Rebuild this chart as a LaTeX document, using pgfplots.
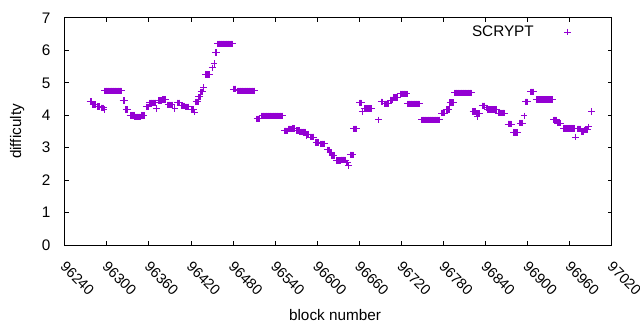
\documentclass[border=0pt]{standalone}
\usepackage{pgfplots}
\pgfplotsset{compat=1.18}
\usepackage{fontspec}
\setmainfont{Liberation Sans}
\definecolor{gpviolet}{RGB}{148,0,211}
\begin{document}
\fontsize{15.3bp}{18bp}\selectfont
\begin{tikzpicture}
\useasboundingbox (-64.8bp,-85bp) rectangle (575.2bp,245bp);
\begin{axis}[
  scale only axis, width=547bp, height=227bp,
  at={(0,0)}, anchor=south west,
  xmin=96240, xmax=97020, ymin=0, ymax=7,
  xtick={96240,96300,96360,96420,96480,96540,96600,96660,96720,96780,96840,96900,96960,97020},
  ytick={0,1,2,3,4,5,6,7},
  scaled x ticks=false,
  tick align=inside, xtick pos=both, ytick pos=both, major tick length=4bp,
  axis line style={line width=1bp, black},
  every tick/.style={black, line width=1bp},
  /pgf/number format/assume math mode=true,
  /pgf/number format/1000 sep={},
  xticklabel style={font=\fontsize{14.5bp}{17bp}\selectfont, xshift=2bp, yshift=-8bp, rotate=-45, anchor=north west},
  yticklabel style={xshift=-9bp},
  xlabel={block number}, ylabel={difficulty},
  xlabel style={at={(axis description cs:0.494,-0.308)}, anchor=center},
  ylabel style={at={(axis description cs:-0.087,0.5)}, anchor=center},
  legend plot pos=right,
  legend style={draw=none, fill=none, at={(rel axis cs:0.9327,0.985)}, anchor=north east},
  legend image code/.code={\path[draw=none,fill=none] (0bp,-3bp) rectangle (36bp,3bp); \draw[mark repeat=2,mark phase=2,#1] plot coordinates {(0bp,0bp)(32bp,0bp)};},
]
\addplot[only marks, mark=+, mark size=3.3bp, line width=1bp, color=gpviolet] coordinates {
(96276,4.42)(96277,4.42)(96278,4.42)
(96280,4.33)(96281,4.33)(96282,4.33)(96283,4.33)(96284,4.33)
(96286,4.27)(96287,4.27)(96288,4.27)(96289,4.27)(96290,4.27)
(96292,4.23)(96293,4.23)(96294,4.23)(96295,4.23)(96296,4.18)
(96297,4.75)(96298,4.75)(96299,4.75)(96300,4.75)(96301,4.75)(96302,4.75)(96303,4.75)(96304,4.75)(96305,4.75)(96306,4.75)(96307,4.75)(96308,4.75)(96309,4.75)(96310,4.75)(96311,4.75)(96312,4.75)(96313,4.75)(96314,4.75)(96315,4.75)(96316,4.75)(96317,4.75)(96318,4.75)(96319,4.75)(96320,4.75)(96321,4.75)
(96323,4.45)(96324,4.45)(96325,4.45)
(96327,4.17)(96328,4.17)(96329,4.17)(96330,4.17)
(96333,4.00)(96334,4.00)(96335,4.00)(96336,4.00)(96337,4.00)(96338,4.00)(96339,4.00)
(96340,3.95)(96341,3.95)(96342,3.95)(96343,3.95)(96344,3.95)(96345,3.95)(96346,3.95)(96347,3.95)(96348,3.95)
(96350,4.00)(96351,4.00)(96352,4.00)(96353,4.00)
(96356,4.26)(96357,4.26)(96358,4.26)(96359,4.26)
(96361,4.38)(96362,4.38)(96363,4.38)(96364,4.38)(96365,4.38)(96366,4.38)(96367,4.38)(96368,4.38)(96369,4.38)(96370,4.38)
(96371,4.20)
(96374,4.45)(96375,4.45)(96376,4.45)(96377,4.45)(96378,4.45)
(96380,4.49)(96381,4.49)(96382,4.49)(96383,4.49)(96384,4.49)
(96387,4.32)(96388,4.32)(96389,4.32)(96390,4.32)(96391,4.32)(96392,4.32)(96393,4.32)
(96397,4.20)
(96400,4.38)(96401,4.38)(96402,4.38)(96403,4.38)(96404,4.38)
(96406,4.29)(96407,4.29)(96408,4.29)(96409,4.29)(96410,4.29)
(96412,4.26)(96413,4.26)(96414,4.26)(96415,4.26)(96416,4.26)(96417,4.26)
(96420,4.17)(96421,4.17)(96422,4.17)(96423,4.17)(96424,4.17)(96425,4.10)
(96427,4.41)(96428,4.41)(96429,4.41)(96430,4.41)
(96431,4.57)(96432,4.57)(96433,4.57)
(96434,4.72)(96435,4.72)(96436,4.72)(96437,4.72)
(96438,4.85)
(96441,5.25)(96442,5.25)(96443,5.25)(96444,5.25)(96445,5.25)(96446,5.25)(96447,5.25)
(96450,5.46)(96451,5.46)
(96453,5.59)
(96455,5.93)(96456,5.93)(96457,5.93)
(96458,6.20)(96459,6.20)(96460,6.20)(96461,6.20)(96462,6.20)(96463,6.20)(96464,6.20)(96465,6.20)(96466,6.20)(96467,6.20)(96468,6.20)(96469,6.20)(96470,6.20)(96471,6.20)(96472,6.20)(96473,6.20)(96474,6.20)(96475,6.20)(96476,6.20)(96477,6.20)(96478,6.20)(96479,6.20)
(96480,4.81)(96481,4.81)(96482,4.81)(96483,4.81)(96484,4.81)
(96486,4.75)(96487,4.75)(96488,4.75)(96489,4.75)(96490,4.75)(96491,4.75)(96492,4.75)(96493,4.75)(96494,4.75)(96495,4.75)(96496,4.75)(96497,4.75)(96498,4.75)(96499,4.75)(96500,4.75)(96501,4.75)(96502,4.75)(96503,4.75)(96504,4.75)(96505,4.75)(96506,4.75)(96507,4.75)(96508,4.75)(96509,4.75)(96510,4.75)(96511,4.75)
(96514,3.89)(96515,3.89)(96516,3.89)(96517,3.89)(96518,3.89)
(96521,3.98)(96522,3.98)(96523,3.98)(96524,3.98)(96525,3.98)(96526,3.98)(96527,3.98)(96528,3.98)(96529,3.98)(96530,3.98)(96531,3.98)(96532,3.98)(96533,3.98)(96534,3.98)(96535,3.98)(96536,3.98)(96537,3.98)(96538,3.98)(96539,3.98)(96540,3.98)(96541,3.98)(96542,3.98)(96543,3.98)(96544,3.98)(96545,3.98)(96546,3.98)(96547,3.98)(96548,3.98)(96549,3.98)(96550,3.98)(96551,3.98)
(96553,3.52)(96554,3.52)(96555,3.52)(96556,3.52)(96557,3.52)
(96559,3.58)(96560,3.58)(96561,3.58)(96562,3.58)(96563,3.58)(96564,3.58)
(96565,3.60)(96566,3.60)(96567,3.60)(96568,3.60)
(96570,3.53)(96571,3.53)(96572,3.53)(96573,3.53)(96574,3.53)
(96575,3.49)(96576,3.49)(96577,3.49)(96578,3.49)(96579,3.49)(96580,3.49)(96581,3.49)(96582,3.49)(96583,3.49)
(96584,3.38)
(96585,3.42)(96586,3.42)(96587,3.42)(96588,3.42)
(96590,3.33)(96591,3.33)(96592,3.33)(96593,3.33)(96594,3.33)(96595,3.33)
(96598,3.17)(96599,3.17)(96600,3.17)(96601,3.17)(96602,3.17)
(96604,3.12)(96605,3.12)(96606,3.12)(96607,3.12)(96608,3.12)(96609,3.12)(96610,3.12)(96611,3.12)
(96614,2.93)(96615,2.93)(96616,2.93)(96617,2.93)
(96618,2.84)(96619,2.84)(96620,2.84)
(96621,2.75)(96622,2.75)(96623,2.75)(96624,2.75)
(96627,2.60)(96628,2.60)(96629,2.60)(96630,2.60)(96631,2.60)(96632,2.60)(96633,2.60)
(96634,2.62)(96635,2.62)(96636,2.62)(96637,2.62)(96638,2.62)(96639,2.62)(96640,2.62)
(96641,2.53)(96642,2.53)(96643,2.53)
(96644,2.44)(96645,2.44)
(96647,2.78)(96648,2.78)(96649,2.78)(96650,2.78)(96651,2.78)
(96652,3.58)(96653,3.58)(96654,3.58)(96655,3.58)(96656,3.58)
(96660,4.38)(96661,4.38)(96662,4.38)(96663,4.38)
(96664,4.12)(96665,4.12)
(96667,4.20)(96668,4.20)(96669,4.20)(96670,4.20)(96671,4.20)(96672,4.20)(96673,4.20)(96674,4.20)(96675,4.20)(96676,4.20)(96677,4.20)(96678,4.20)
(96687,3.86)
(96691,4.41)(96692,4.41)(96693,4.41)
(96696,4.35)(96697,4.35)(96698,4.35)(96699,4.35)(96700,4.35)(96701,4.35)(96702,4.35)
(96704,4.47)(96705,4.47)(96706,4.47)(96707,4.47)(96708,4.47)
(96709,4.54)(96710,4.54)(96711,4.54)(96712,4.54)(96713,4.54)(96714,4.54)(96715,4.54)
(96718,4.66)(96719,4.66)(96720,4.66)(96721,4.66)(96722,4.66)(96723,4.66)(96724,4.66)(96725,4.66)(96726,4.66)(96727,4.66)(96728,4.66)
(96729,4.35)(96730,4.35)(96731,4.35)(96732,4.35)(96733,4.35)(96734,4.35)(96735,4.35)(96736,4.35)(96737,4.35)(96738,4.35)(96739,4.35)(96740,4.35)(96741,4.35)(96742,4.35)(96743,4.35)(96744,4.35)(96745,4.35)(96746,4.35)
(96749,3.86)(96750,3.86)(96751,3.86)(96752,3.86)(96753,3.86)(96754,3.86)(96755,3.86)(96756,3.86)(96757,3.86)(96758,3.86)(96759,3.86)(96760,3.86)(96761,3.86)(96762,3.86)(96763,3.86)(96764,3.86)(96765,3.86)(96766,3.86)(96767,3.86)(96768,3.86)(96769,3.86)(96770,3.86)(96771,3.86)(96772,3.86)(96773,3.86)(96774,3.86)(96775,3.86)
(96777,4.07)(96778,4.07)(96779,4.07)(96780,4.07)(96781,4.07)(96782,4.07)
(96784,4.17)(96785,4.17)(96786,4.17)(96787,4.17)(96788,4.17)
(96789,4.40)(96790,4.40)(96791,4.40)(96792,4.40)(96793,4.40)(96794,4.40)
(96796,4.69)(96797,4.69)(96798,4.69)(96799,4.69)(96800,4.69)(96801,4.69)(96802,4.69)(96803,4.69)(96804,4.69)(96805,4.69)(96806,4.69)(96807,4.69)(96808,4.69)(96809,4.69)(96810,4.69)(96811,4.69)(96812,4.69)(96813,4.69)(96814,4.69)(96815,4.69)(96816,4.69)(96817,4.69)(96818,4.69)(96819,4.69)(96820,4.69)
(96822,4.12)(96823,4.12)(96824,4.12)(96825,4.12)(96826,4.12)
(96827,4.05)(96828,3.95)(96829,4.05)(96830,4.05)(96831,4.05)(96832,4.05)
(96835,4.29)(96836,4.29)(96837,4.29)(96838,4.29)(96839,4.29)
(96841,4.23)(96842,4.23)
(96843,4.17)(96844,4.17)(96845,4.17)(96846,4.17)(96847,4.17)(96848,4.17)(96849,4.17)(96850,4.17)(96851,4.17)(96852,4.17)(96853,4.17)(96854,4.17)(96855,4.17)(96856,4.17)
(96858,4.07)(96859,4.07)(96860,4.07)(96861,4.07)(96862,4.07)(96863,4.07)(96864,4.07)(96865,4.07)(96866,4.07)(96867,4.07)
(96872,3.73)(96873,3.73)(96874,3.73)(96875,3.73)(96876,3.73)(96877,3.73)
(96880,3.46)(96881,3.46)(96882,3.46)(96883,3.46)(96884,3.46)(96885,3.46)(96886,3.46)
(96889,3.76)(96890,3.76)(96891,3.76)(96892,3.76)(96893,3.76)
(96895,3.98)
(96897,4.41)(96898,4.41)(96899,4.41)(96900,4.41)
(96904,4.72)(96905,4.72)(96906,4.72)(96907,4.72)(96908,4.72)(96909,4.72)
(96912,4.48)(96913,4.48)(96914,4.48)(96915,4.48)(96916,4.48)(96917,4.48)(96918,4.48)(96919,4.48)(96920,4.48)(96921,4.48)(96922,4.48)(96923,4.48)(96924,4.48)(96925,4.48)(96926,4.48)(96927,4.48)(96928,4.48)(96929,4.48)(96930,4.48)(96931,4.48)(96932,4.48)(96933,4.48)(96934,4.48)(96935,4.48)(96936,4.48)
(96937,3.86)(96938,3.86)(96939,3.86)(96940,3.86)(96941,3.86)
(96943,3.76)(96944,3.76)(96945,3.76)(96946,3.76)(96947,3.76)
(96951,3.60)(96952,3.60)(96953,3.60)(96954,3.60)(96955,3.60)(96956,3.60)(96957,3.60)(96958,3.60)(96959,3.60)(96960,3.60)(96961,3.60)(96962,3.60)(96963,3.60)(96964,3.60)(96965,3.60)(96966,3.60)(96967,3.60)
(96968,3.33)
(96971,3.58)(96972,3.58)(96973,3.58)(96974,3.58)(96975,3.58)(96976,3.58)
(96977,3.49)(96978,3.49)(96979,3.49)(96980,3.49)
(96981,3.55)(96982,3.55)(96983,3.55)(96984,3.55)(96985,3.55)(96986,3.55)
(96987,3.64)
(96991,4.12)
};
\addlegendentry{SCRYPT}
\end{axis}
\end{tikzpicture}
\end{document}
